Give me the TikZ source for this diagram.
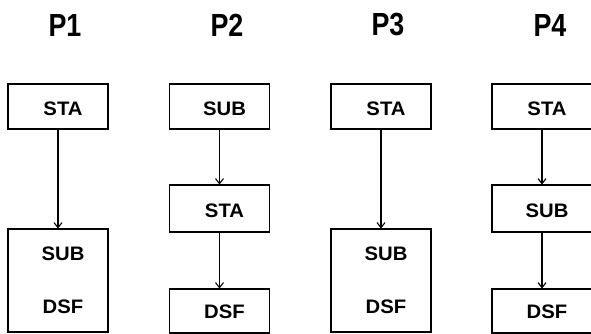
\documentclass[tikz,border=0pt]{standalone}
\usepackage{fontspec}
\setmainfont{Liberation Sans}
\newfontfamily\titlefont[FakeStretch=0.84]{Liberation Sans Bold}
\newfontfamily\boxfont[FakeStretch=1.04]{Liberation Sans Bold}
\usetikzlibrary{arrows.meta}

\tikzset{
  title/.style={font=\fontsize{32}{34}\titlefont, inner sep=0pt},
  procbox/.style={draw, line width=1.1pt, minimum width=100pt, inner sep=0pt,
    text height=18pt, text depth=0pt, font=\fontsize{19.5}{22}\boxfont,
    execute at begin node=\hspace*{10pt}},
  tallbox/.style={draw, line width=1.1pt, minimum width=100pt, minimum height=103pt,
    inner sep=0pt, align=center, font=\fontsize{19.5}{53}\boxfont},
  flow/.style={line width=1.1pt, -{Straight Barb[length=5pt,width=8pt,line width=1.1pt]}}
}

\begin{document}
\begin{tikzpicture}[x=1pt, y=-1pt]
  \useasboundingbox (0,0) rectangle (591,333);

  % --- titles ---
  \node[title] (t1) at (65,25) {P1};
  \node[title] (t2) at (227,25) {P2};
  \node[title] (t3) at (388,25) {P3};
  \node[title] (t4) at (550,25) {P4};

  % --- P1: STA then SUB+DSF together ---
  \node[procbox, minimum height=45pt] (p1a) at (58,106.5) {STA};
  \node[tallbox] (p1b) at (58,280.5) {\hspace*{10pt}SUB\\\hspace*{10pt}DSF};
  \draw[flow] (p1a) -- (p1b);

  % --- P2: SUB, STA, DSF ---
  \node[procbox, minimum height=45pt] (p2a) at (219.5,106.5) {SUB};
  \node[procbox, minimum height=47pt] (p2b) at (219.5,208.5) {STA};
  \node[procbox, minimum height=44pt, text height=14pt] (p2c) at (219.5,311) {DSF};
  \draw[flow] (p2a) -- (p2b);
  \draw[flow] (p2b) -- (p2c);

  % --- P3: same as P1 ---
  \node[procbox, minimum height=45pt] (p3a) at (381,106.5) {STA};
  \node[tallbox] (p3b) at (381,280.5) {\hspace*{10pt}SUB\\\hspace*{10pt}DSF};
  \draw[flow] (p3a) -- (p3b);

  % --- P4: STA, SUB, DSF ---
  \node[procbox, minimum height=45pt] (p4a) at (542,106.5) {STA};
  \node[procbox, minimum height=47pt] (p4b) at (542,208.5) {SUB};
  \node[procbox, minimum height=44pt, text height=14pt] (p4c) at (542,311) {DSF};
  \draw[flow] (p4a) -- (p4b);
  \draw[flow] (p4b) -- (p4c);
\end{tikzpicture}
\end{document}
